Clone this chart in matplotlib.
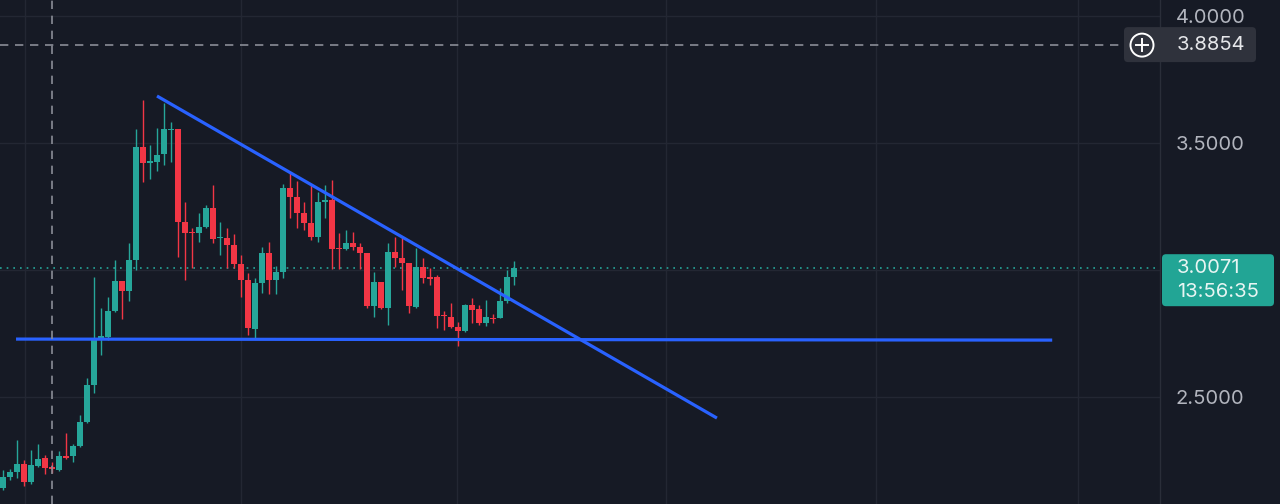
import matplotlib
matplotlib.use("Agg")
import matplotlib.pyplot as plt
from matplotlib.patches import FancyBboxPatch, Circle
from matplotlib.transforms import IdentityTransform
from matplotlib.lines import Line2D

# ---- data ----
opens = [2.142, 2.185, 2.205, 2.236, 2.165, 2.228, 2.260, 2.224, 2.213, 2.268,
         2.268, 2.307, 2.402, 2.547, 2.732, 2.736, 2.839, 2.957, 2.917, 3.039,
         3.484, 3.421, 3.425, 3.457, 3.551, 3.555, 3.189, 3.150, 3.146, 3.169,
         3.244, 3.126, 3.126, 3.098, 3.024, 2.961, 2.768, 2.949, 3.067, 2.961,
         2.992, 3.323, 3.287, 3.224, 3.185, 3.130, 3.268, 3.276, 3.087, 3.083,
         3.106, 3.091, 3.067, 2.858, 2.953, 2.850, 3.071, 3.047, 3.028, 2.854,
         3.012, 2.972, 2.972, 2.823, 2.815, 2.776, 2.760, 2.862, 2.846, 2.791,
         2.811, 2.811, 2.878, 2.972]
highs = [2.213, 2.217, 2.331, 2.252, 2.291, 2.315, 2.272, 2.244, 2.287, 2.358,
         2.315, 2.429, 2.575, 2.972, 2.850, 2.894, 3.039, 2.957, 3.106, 3.555,
         3.669, 3.492, 3.559, 3.657, 3.583, 3.555, 3.268, 3.165, 3.224, 3.256,
         3.335, 3.189, 3.165, 3.142, 3.059, 2.988, 2.969, 3.091, 3.110, 3.016,
         3.339, 3.382, 3.350, 3.268, 3.335, 3.307, 3.335, 3.354, 3.146, 3.157,
         3.150, 3.106, 3.067, 2.992, 2.953, 3.106, 3.130, 3.130, 3.028, 3.087,
         3.047, 3.008, 2.980, 2.839, 2.870, 2.795, 2.866, 2.890, 2.862, 2.882,
         2.827, 2.929, 3.000, 3.035]
lows = [2.134, 2.173, 2.181, 2.150, 2.157, 2.224, 2.197, 2.201, 2.209, 2.256,
        2.244, 2.303, 2.398, 2.516, 2.665, 2.724, 2.835, 2.807, 2.878, 3.000,
        3.346, 3.358, 3.390, 3.413, 3.425, 3.051, 2.961, 3.008, 3.110, 3.165,
        3.106, 3.059, 3.008, 3.008, 2.894, 2.744, 2.732, 2.909, 2.906, 2.906,
        2.969, 3.205, 3.165, 3.157, 3.118, 3.110, 3.205, 3.004, 3.004, 3.079,
        3.079, 3.004, 2.850, 2.815, 2.846, 2.783, 3.012, 2.921, 2.831, 2.850,
        2.949, 2.941, 2.772, 2.764, 2.772, 2.701, 2.756, 2.791, 2.783, 2.780,
        2.791, 2.811, 2.870, 2.941]
closes = [2.185, 2.205, 2.236, 2.165, 2.232, 2.256, 2.220, 2.217, 2.268, 2.260,
          2.307, 2.402, 2.547, 2.732, 2.740, 2.839, 2.957, 2.917, 3.039, 3.484,
          3.421, 3.429, 3.453, 3.555, 3.555, 3.189, 3.146, 3.146, 3.169, 3.244,
          3.122, 3.130, 3.098, 3.024, 2.961, 2.772, 2.949, 3.067, 2.961, 2.992,
          3.323, 3.287, 3.224, 3.185, 3.130, 3.268, 3.276, 3.083, 3.083, 3.106,
          3.091, 3.067, 2.858, 2.953, 2.850, 3.071, 3.047, 3.028, 2.858, 3.012,
          2.969, 2.965, 2.819, 2.819, 2.776, 2.760, 2.862, 2.843, 2.791, 2.815,
          2.807, 2.878, 2.972, 3.0071]

y_ticks = [2.5, 3.5, 4.0]
y_tick_labels = ["2.5000", "3.5000", "4.0000"]
last_price_label = "3.0071"
countdown_label = "13:56:35"
crosshair_price = 3.8854
crosshair_label = "3.8854"

# trend lines (bar index, price)
desc_line_x = [22.0, 102.0]
desc_line_y = [3.685, 2.417]
flat_line_x = [1.86, 149.9]
flat_line_y = [2.728, 2.724]

vgrid_x = [3.14, 34.0, 64.9, 94.7, 124.7, 153.6]
crosshair_x = 7.0

# ---- style ----
BG = "#161a25"
GRID = "#232733"
TXT = "#b2b5be"
GREEN = "#26a69a"
RED = "#f23645"
BLUE = "#2962ff"
FONT = ["Inter", "DejaVu Sans"]
FS = 14.5

W, H = 1280, 504
fig = plt.figure(figsize=(W / 100, H / 100), dpi=100, facecolor=BG)
ax = fig.add_axes([0, 0, 1160 / W, 1])
ax.set_facecolor(BG)
ax.set_xlim(-0.43, 165.3)
ax.set_ylim(2.0787, 4.0630)
for s in ax.spines.values():
    s.set_visible(False)
ax.spines["right"].set_visible(True)
ax.spines["right"].set_color("#2a2e39")
ax.spines["right"].set_linewidth(1)
ax.set_xticks([])
ax.yaxis.tick_right()
ax.set_yticks(y_ticks)
ax.set_yticklabels(y_tick_labels)
ax.tick_params(axis="y", length=0, pad=11.5, labelsize=FS, labelcolor=TXT)
for lab in ax.get_yticklabels():
    lab.set_family(FONT)

# grid
for g in [2.5, 3.0, 3.5, 4.0]:
    ax.axhline(g, color=GRID, lw=1, zorder=0)
for vx in vgrid_x:
    ax.axvline(vx, color=GRID, lw=1, zorder=0)

# candles
idx = list(range(len(opens)))
for i in idx:
    o, h, l, c = opens[i], highs[i], lows[i], closes[i]
    col = GREEN if c >= o else RED
    ax.vlines(i, l, h, color=col, lw=1.0, zorder=2)
    bot = min(o, c)
    ht = max(abs(c - o), 0.004)
    ax.bar(i, ht, bottom=bot, width=0.74, color=col, edgecolor=col, lw=0, zorder=3)

# last price dotted line
ax.axhline(closes[-1], color=GREEN, lw=1.2, ls=(0, (1, 3)), zorder=1)

# trend lines
ax.plot(desc_line_x, desc_line_y, color=BLUE, lw=2.3, solid_capstyle="butt", zorder=4)
ax.plot(flat_line_x, flat_line_y, color=BLUE, lw=2.3, solid_capstyle="butt", zorder=4)

# crosshair
ax.axvline(crosshair_x, color="#8a8d96", lw=1.2, ls=(0, (5, 4)), zorder=5)
ax.plot([-0.43, (1124 - 3) / 7.0], [crosshair_price, crosshair_price], color="#8a8d96",
        lw=1.2, ls=(0, (5, 4)), zorder=5)

fig.canvas.draw()

def ypix(price):
    return ax.transData.transform((0, price))[1]

ident = IdentityTransform()

# last price label
yp = ypix(closes[-1])
box = FancyBboxPatch((1162, yp - 38), 112, 52, boxstyle="round,pad=0,rounding_size=4",
                     transform=ident, facecolor="#22a595", edgecolor="none", zorder=10)
fig.add_artist(box)
fig.text(1177, yp, last_price_label, transform=ident, color="#e8f5f3", fontsize=FS,
         family=FONT, va="center", ha="left", zorder=11)
fig.text(1177, yp - 24, countdown_label, transform=ident, color="#e8f5f3", fontsize=FS,
         family=FONT, va="center", ha="left", zorder=11)

# crosshair label
yc = ypix(crosshair_price)
cbox = FancyBboxPatch((1124, yc - 17), 132, 35, boxstyle="round,pad=0,rounding_size=4",
                      transform=ident, facecolor="#2f323c", edgecolor="none", zorder=10)
fig.add_artist(cbox)
circ = Circle((1142, yc), 11.5, transform=ident, facecolor="none", edgecolor="#ffffff",
              lw=1.4, zorder=11)
fig.add_artist(circ)
fig.add_artist(Line2D([1136, 1148], [yc, yc], transform=ident, color="#ffffff", lw=1.4, zorder=11))
fig.add_artist(Line2D([1142, 1142], [yc - 6, yc + 6], transform=ident, color="#ffffff", lw=1.4, zorder=11))
fig.text(1177, yc, crosshair_label, transform=ident, color="#e6e7ea", fontsize=FS,
         family=FONT, va="center", ha="left", zorder=11)

fig.savefig("out.png", dpi=100, facecolor=BG)
